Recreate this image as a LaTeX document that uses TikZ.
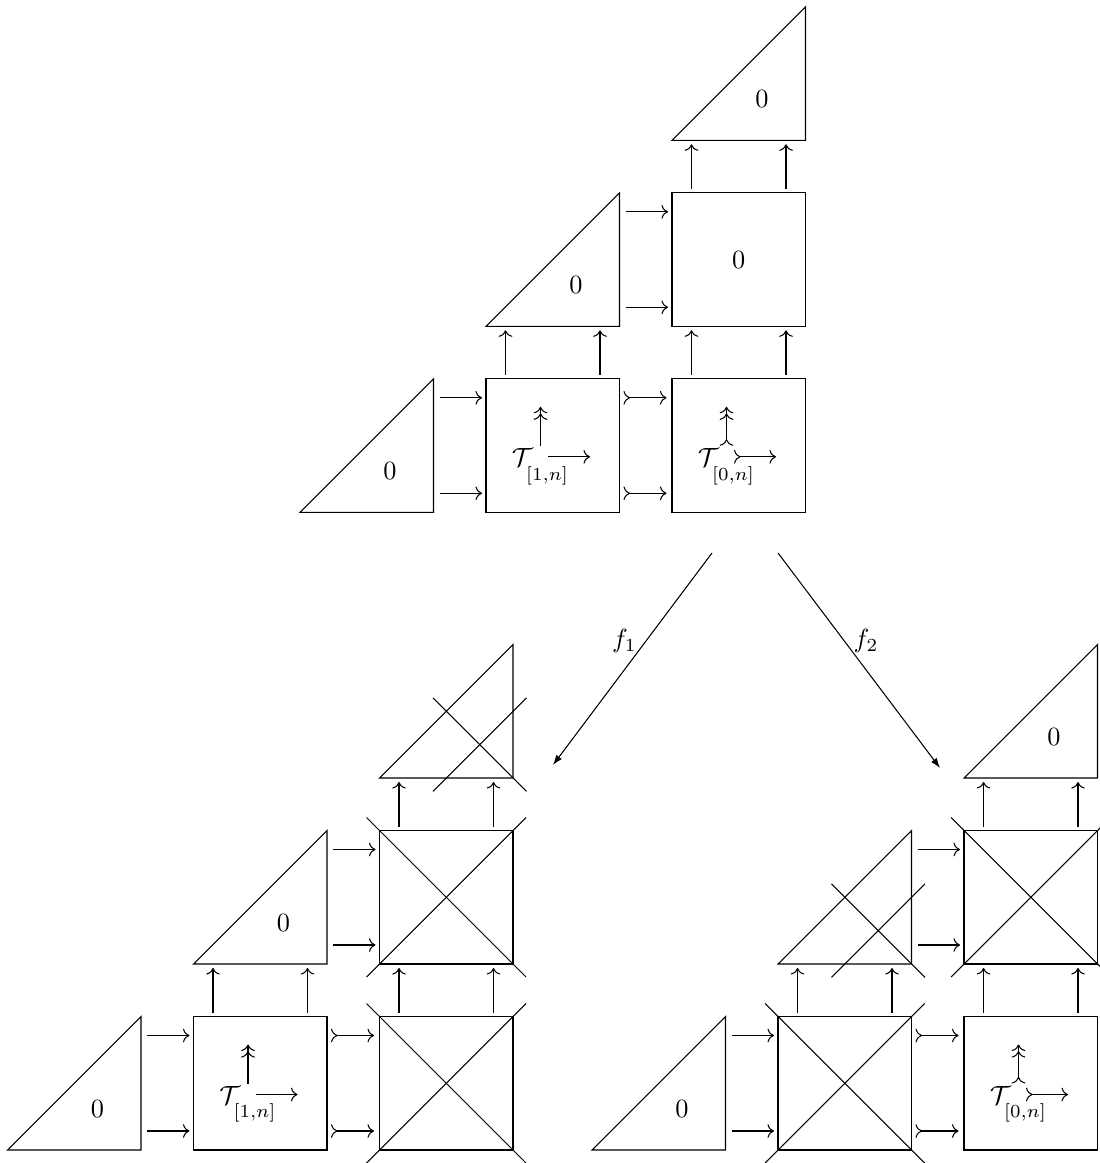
\documentclass[tikz,border=0pt]{standalone}
\usetikzlibrary{arrows.meta}
\tikzset{
  cell/.style={minimum size=50.73pt, inner sep=0pt, outer sep=0pt},
  harr/.style={->, shorten <=2.28pt, shorten >=1.52pt},
  tarr/.style={>->, shorten <=1.52pt, shorten >=2.09pt},
  varr/.style={->, shorten <=1.52pt, shorten >=1.52pt},
  mor/.style={-{Latex[length=3.8pt,width=2.66pt]}},
}
\newcommand\mkcell[5]{\node[cell] (#1) at ({#2+186*#4+66.75},{#3-186*#5-66.75}) {};}
\newcommand\drawsq[1]{\draw (#1.south west) rectangle (#1.north east);}
\newcommand\drawtri[1]{\draw (#1.south west) -- (#1.south east) -- (#1.north east) -- cycle;}
\newcommand\zerotri[1]{\node (#1z) at ([shift={(90,-41)}]#1.south west) {$0$};}
\newcommand\crosssq[1]{\draw ([shift={(-13,13)}]#1.south west) -- ([shift={(13,-13)}]#1.north east);
  \draw ([shift={(-13,-13)}]#1.north west) -- ([shift={(13,13)}]#1.south east);}
\newcommand\crosstri[1]{\draw ([shift={(53.4,53.4)}]#1.north west) -- ([shift={(146.9,146.9)}]#1.north west);
  \draw ([shift={(53.4,146.9)}]#1.north west) -- ([shift={(146.9,53.4)}]#1.north west);}
\newcommand\hpair[3]{\draw[#1] ([shift={(0,19)}]#2.north east) -- ([shift={(0,19)}]#3.north west);
  \draw[#1] ([shift={(0,-19)}]#2.south east) -- ([shift={(0,-19)}]#3.south west);}
\newcommand\vpair[2]{\draw[varr] ([shift={(19.5,0)}]#1.north west) -- ([shift={(19.5,0)}]#2.south west);
  \draw[varr] ([shift={(-19.5,0)}]#1.north east) -- ([shift={(-19.5,0)}]#2.south east);}
\newcommand\tcontent[3]{%
  \node[anchor=base, inner sep=0pt] (#2) at ([shift={(54.5,87.5)}]#1.north west)
    {$\mathcal{T}_{\lower3.8pt\hbox{$\scriptstyle[#3,n]$}}$};
  \coordinate (#2u) at ([shift={(54.5,28)}]#1.north west);
  \coordinate (#2a) at ([shift={(62,78)}]#1.north west);
  \coordinate (#2b) at ([shift={(104,78)}]#1.north west);}
\begin{document}
\begin{tikzpicture}[x=0.38pt,y=-0.38pt]
\useasboundingbox (0,0) rectangle (1099,1163);
% ---------- top diagram ----------
\mkcell{T00}{300}{512.3}{0}{0}
\mkcell{T10}{300}{512.3}{1}{0}
\mkcell{T20}{300}{512.3}{2}{0}
\mkcell{T11}{300}{512.3}{1}{1}
\mkcell{T21}{300}{512.3}{2}{1}
\mkcell{T22}{300}{512.3}{2}{2}
\drawtri{T00}\zerotri{T00}
\drawsq{T10}\drawsq{T20}
\drawtri{T11}\zerotri{T11}
\drawsq{T21}\node (T21z) at (T21) {$0$};
\drawtri{T22}\zerotri{T22}
\hpair{harr}{T00}{T10}
\hpair{tarr}{T10}{T20}
\hpair{harr}{T11}{T21}
\vpair{T10}{T11}
\vpair{T20}{T21}
\vpair{T21}{T22}
\tcontent{T10}{Ta}{1}
\draw[->>, shorten <=0.76pt] (Ta.north) -- (Tau);
\draw[->] (Taa) -- (Tab);
\tcontent{T20}{Tb}{0}
\draw[>->>, shorten <=0.76pt] (Tb.north) -- (Tbu);
\draw[>->] (Tba) -- (Tbb);
% ---------- bottom-left diagram ----------
\mkcell{L00}{7.5}{1150}{0}{0}
\mkcell{L10}{7.5}{1150}{1}{0}
\mkcell{L20}{7.5}{1150}{2}{0}
\mkcell{L11}{7.5}{1150}{1}{1}
\mkcell{L21}{7.5}{1150}{2}{1}
\mkcell{L22}{7.5}{1150}{2}{2}
\drawtri{L00}\zerotri{L00}
\drawsq{L10}
\drawsq{L20}\crosssq{L20}
\drawtri{L11}\zerotri{L11}
\drawsq{L21}\crosssq{L21}
\drawtri{L22}\crosstri{L22}
\hpair{harr}{L00}{L10}
\hpair{tarr}{L10}{L20}
\hpair{harr}{L11}{L21}
\vpair{L10}{L11}
\vpair{L20}{L21}
\vpair{L21}{L22}
\tcontent{L10}{La}{1}
\draw[->>, shorten <=0.76pt] (La.north) -- (Lau);
\draw[->] (Laa) -- (Lab);
% ---------- bottom-right diagram ----------
\mkcell{R00}{592}{1150}{0}{0}
\mkcell{R10}{592}{1150}{1}{0}
\mkcell{R20}{592}{1150}{2}{0}
\mkcell{R11}{592}{1150}{1}{1}
\mkcell{R21}{592}{1150}{2}{1}
\mkcell{R22}{592}{1150}{2}{2}
\drawtri{R00}\zerotri{R00}
\drawsq{R10}\crosssq{R10}
\drawsq{R20}
\drawtri{R11}\crosstri{R11}
\drawsq{R21}\crosssq{R21}
\drawtri{R22}\zerotri{R22}
\hpair{harr}{R00}{R10}
\hpair{tarr}{R10}{R20}
\hpair{harr}{R11}{R21}
\vpair{R10}{R11}
\vpair{R20}{R21}
\vpair{R21}{R22}
\tcontent{R20}{Rb}{0}
\draw[>->>, shorten <=0.76pt] (Rb.north) -- (Rbu);
\draw[>->] (Rba) -- (Rbb);
% ---------- maps ----------
\coordinate (f1s) at (712,553);
\coordinate (f1e) at (553,765);
\coordinate (f2s) at (778,553);
\coordinate (f2e) at (940,768);
\draw[mor] (f1s) -- node[pos=0.415, left] (f1l) {$f_1$} (f1e);
\draw[mor] (f2s) -- node[pos=0.41, right] (f2l) {$f_2$} (f2e);
\end{tikzpicture}
\end{document}
